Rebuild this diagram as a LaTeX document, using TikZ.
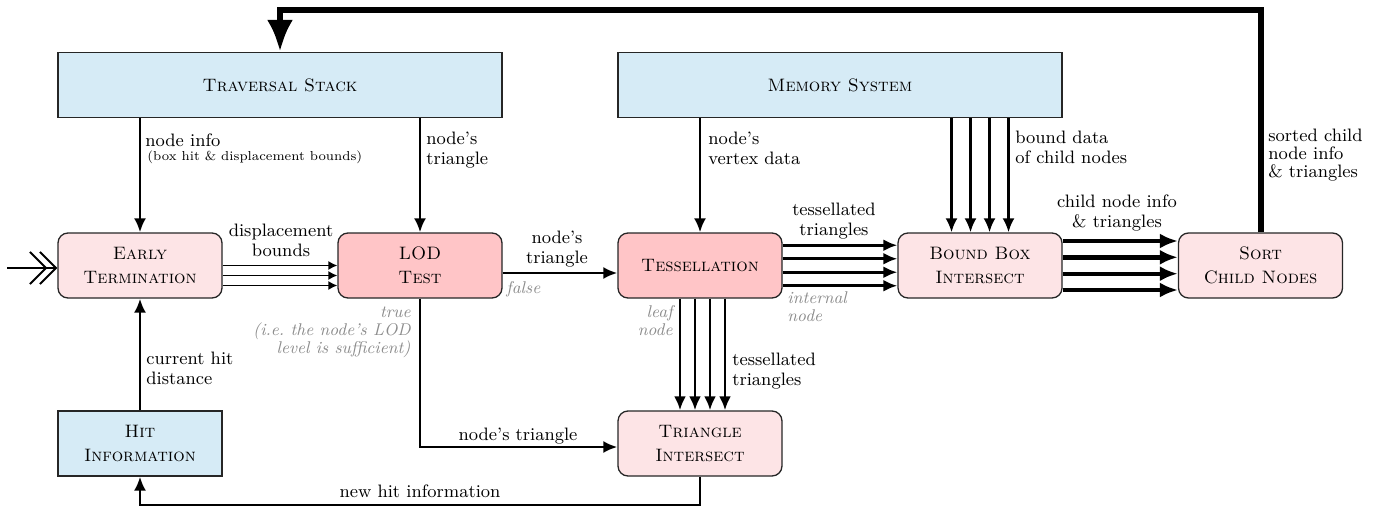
\documentclass[tikz,border=0pt]{standalone}
\usetikzlibrary{arrows.meta,calc}

\definecolor{storeblue}{RGB}{214,235,246}
\definecolor{softpink}{RGB}{253,228,230}
\definecolor{hotpink}{RGB}{255,197,199}
\definecolor{notegray}{RGB}{140,140,140}

\begin{document}
\begin{tikzpicture}[x=0.5pt,y=-0.5pt,
  box/.style={draw=black!85, line width=0.65pt, minimum width=82pt, minimum height=32.5pt,
    align=center, inner sep=0pt, font=\fontsize{9}{12}\selectfont\scshape},
  procbox/.style={box, rounded corners=5pt, fill=softpink},
  hotbox/.style={box, rounded corners=5pt, fill=hotpink},
  storebox/.style={box, fill=storeblue},
  lbl/.style={inner sep=0pt, font=\fontsize{9}{10}\selectfont},
  smalllbl/.style={inner sep=0pt, font=\fontsize{6.5}{8}\selectfont},
  note/.style={inner sep=0pt, text=notegray, font=\fontsize{8.5}{9}\selectfont\itshape},
  flow/.style={line width=1.25pt, -{Latex[length=7pt,width=6pt]}},
  thinflow/.style={line width=0.7pt, -{Latex[length=4.5pt,width=4.5pt]}},
  wideflow/.style={line width=2.2pt, -{Latex[length=9pt,width=7.5pt]}},
  feedback/.style={line width=3pt, -{Latex[length=16pt,width=13pt]}},
  entry/.style={line width=1pt, -{Straight Barb[length=8pt,width=16pt]}},
]
\useasboundingbox (0,0) rectangle (1375,508);

% storage units
\node[storebox, minimum width=222pt] (trav) at (280,85) {Traversal Stack};
\node[storebox, minimum width=222pt] (mem) at (840,85) {Memory System};
\node[storebox] (hit) at (140,443.5) {Hit\\Information};

% pipeline stages
\node[procbox] (early) at (140,265.5) {Early\\Termination};
\node[hotbox] (lod) at (420,265.5) {LOD\\Test};
\node[hotbox] (tess) at (700,265.5) {Tessellation};
\node[procbox] (bbox) at (980,265.5) {Bound Box\\Intersect};
\node[procbox] (sort) at (1260.5,265.5) {Sort\\Child Nodes};
\node[procbox] (tri) at (700,443.5) {Triangle\\Intersect};

% helper coordinates for the free ends and routing rails
\coordinate (src) at (7,268);
\coordinate (ceiling) at (0,10);
\coordinate (floor) at (0,505);

% entry of a new ray
\draw[entry] (src) -- (src -| early.west);
\draw[entry, shorten >=5pt] (src) -- (src -| early.west);

% traversal stack feeds
\draw[flow] (trav.south -| early.north) -- (early.north);
\draw[flow] (trav.south -| lod.north) -- (lod.north);
\node[lbl, anchor=north west, align=left] (lnodeinfo) at (145,133) {node info};
\node[smalllbl, anchor=base west] (lboxhit) at (147,160) {(box hit \& displacement bounds)};
\node[lbl, anchor=north west, align=left] (ltri1) at (426,132) {node's\\triangle};

% memory feeds
\draw[flow] (mem.south -| tess.north) -- (tess.north);
\node[lbl, anchor=north west, align=left] (lvert) at (708,132) {node's\\vertex data};
\foreach \dx [count=\i] in {-28.5,-9.5,9.5,28.5} {
  \coordinate (bbin\i) at ($(bbox.north)+(\dx,0)$);
  \draw[flow] (mem.south -| bbin\i) -- (bbin\i);
}
\node[lbl, anchor=north west, align=left] (lbound) at (1015,130.5) {bound data\\of child nodes};

% early termination -> LOD test
\foreach \dy in {0,10,20}
  \draw[thinflow] ($(early.east)+(0,\dy)$) -- ($(lod.west)+(0,\dy)$);
\node[lbl, anchor=north, align=center] (ldisp) at (281,223.5) {displacement\\bounds};

% LOD test -> tessellation
\draw[flow] ($(lod.east)+(0,7.5)$) -- ($(tess.west)+(0,7.5)$);
\node[lbl, anchor=north, align=center] (ltri2) at (557,230.5) {node's\\triangle};
\node[note, anchor=base west] (lfalse) at (506,293) {false};

% LOD test -> triangle intersect
\draw[flow] (lod.south) |- ($(tri.west)+(0,3.5)$);
\node[note, anchor=north east, align=right] (ltrue) at (411,306.5) {true\\(i.e.\ the node's LOD\\level is sufficient)};
\node[lbl, anchor=base] (ltri3) at (518,440) {node's triangle};

% tessellation -> bound box intersect
\foreach \dy in {-20.25,-6.75,6.75,20.25}
  \draw[flow, line width=1.4pt] ($(tess.east)+(0,\dy)$) -- ($(bbox.west)+(0,\dy)$);
\node[lbl, anchor=north, align=center] (ltess1) at (834,202.5) {tessellated\\triangles};
\node[note, anchor=north west, align=left] (linternal) at (787,291) {internal\\node};

% tessellation -> triangle intersect
\foreach \dx in {-20,-5,10,25}
  \draw[flow, line width=1.4pt] ($(tess.south)+(\dx,0)$) -- ($(tri.north)+(\dx,0)$);
\node[note, anchor=north east, align=right] (lleaf) at (673,305) {leaf\\node};
\node[lbl, anchor=north west, align=left] (ltess2) at (732,352.5) {tessellated\\triangles};

% bound box intersect -> sort
\foreach \dy in {-24.5,-8.2,8.2,24.5}
  \draw[wideflow] ($(bbox.east)+(0,\dy)$) -- ($(sort.west)+(0,\dy)$);
\node[lbl, anchor=north, align=center] (lchild) at (1117,194.5) {child node info\\\& triangles};

% sorted children back onto the stack
\draw[feedback] (sort.north) -- (sort.north |- ceiling) -| (trav.north);
\node[lbl, anchor=north west, align=left, font=\fontsize{9}{9}\selectfont] (lsorted) at (1268,128.5) {sorted child\\node info\\\& triangles};

% hit information loop
\draw[flow] (hit.north) -- (early.south);
\node[lbl, anchor=north west, align=left] (lcur) at (146,351.5) {current hit\\distance};
\draw[flow] (tri.south) -- (tri.south |- floor) -| (hit.south);
\node[lbl, anchor=base] (lnew) at (420,497) {new hit information};
\end{tikzpicture}
\end{document}
